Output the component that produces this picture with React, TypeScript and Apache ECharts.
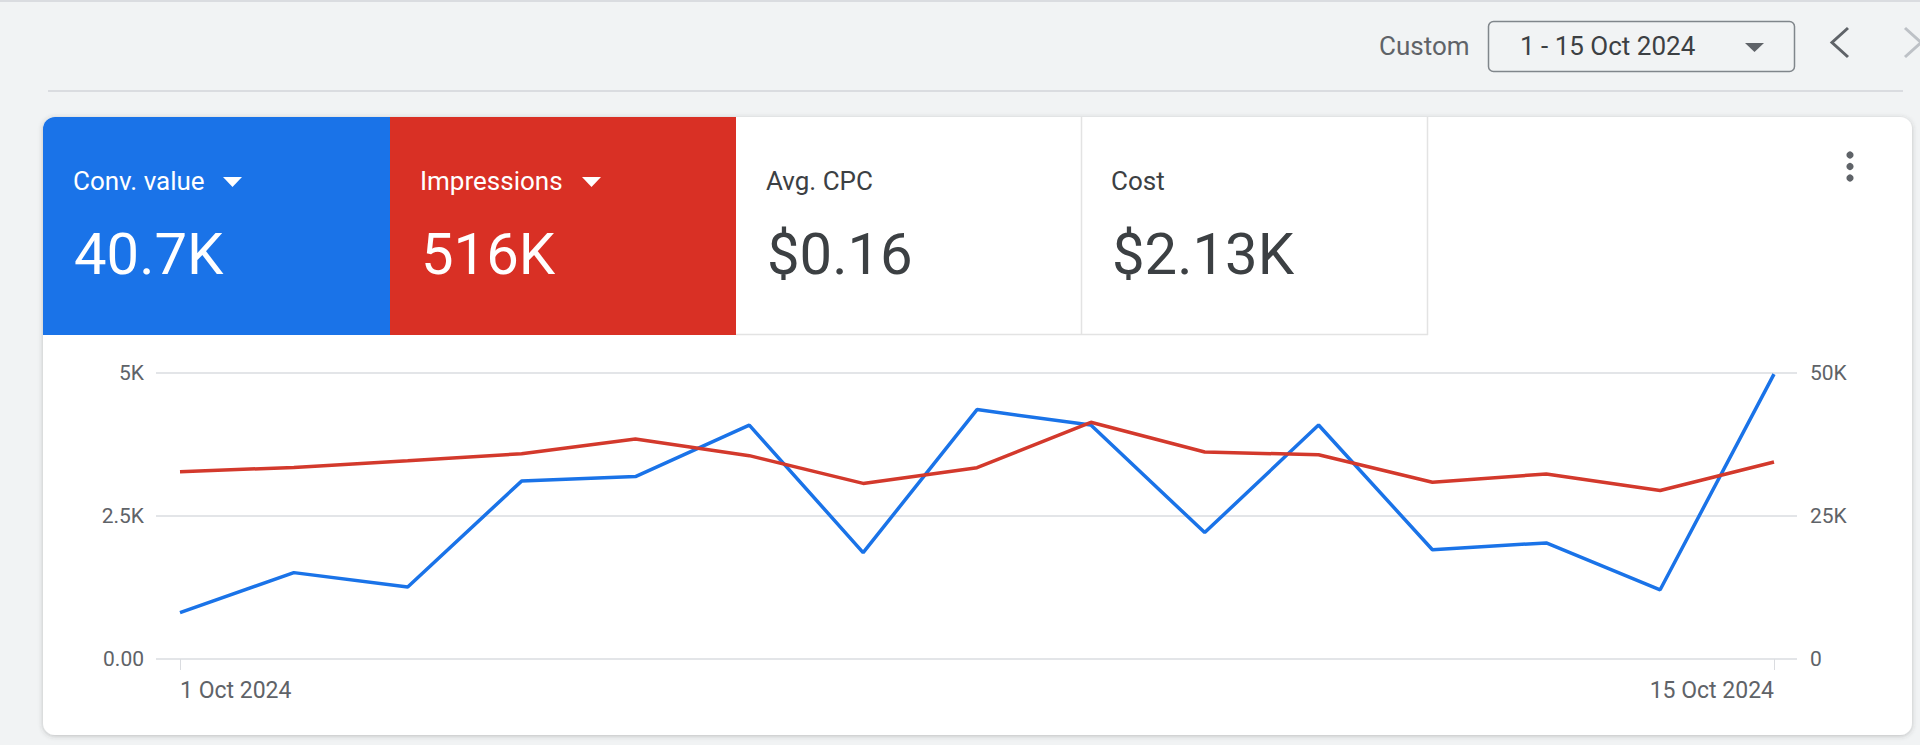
import React from 'react';
import * as echarts from 'echarts';

// daily values, 1 - 15 Oct 2024
const categories = [
  '1 Oct 2024', '2 Oct 2024', '3 Oct 2024', '4 Oct 2024', '5 Oct 2024',
  '6 Oct 2024', '7 Oct 2024', '8 Oct 2024', '9 Oct 2024', '10 Oct 2024',
  '11 Oct 2024', '12 Oct 2024', '13 Oct 2024', '14 Oct 2024', '15 Oct 2024',
];
const convValue = [810, 1510, 1260, 3110, 3190, 4090, 1860, 4360, 4090, 2210, 4090, 1910, 2030, 1210, 4980];
const impressions = [32750, 33500, 34650, 35900, 38450, 35550, 30700, 33450, 41380, 36200, 35700, 30900, 32350, 29450, 34450];

const leftTicks = [0, 2500, 5000];
const leftTickLabels = ['0.00', '2.5K', '5K'];
const rightTicks = [0, 25000, 50000];
const rightTickLabels = ['0', '25K', '50K'];

const metricLabels = ['Conv. value', 'Impressions', 'Avg. CPC', 'Cost'];
const metricValues = ['40.7K', '516K', '$0.16', '$2.13K'];

const BLUE = '#1a73e8';
const RED = '#d93025';
const FONT = 'Roboto, "Noto Sans", sans-serif';

const App: React.FC = () => {
  const chartRef = React.useRef<HTMLDivElement>(null);

  React.useEffect(() => {
    if (!chartRef.current) return;
    const chart = echarts.init(chartRef.current, undefined, { renderer: 'svg' });

    const tileX = [43, 390, 736, 1081];
    const tileText = ['#fff', '#fff', '#3c4043', '#3c4043'];

    const tiles: any[] = [];
    metricLabels.forEach((label, i) => {
      tiles.push({
        type: 'text',
        style: { x: tileX[i] + 30, y: 181, text: label, font: `26px ${FONT}`, fill: tileText[i], verticalAlign: 'middle' },
      });
      tiles.push({
        type: 'text',
        style: { x: tileX[i] + 31, y: 254, text: metricValues[i], font: `58px ${FONT}`, fill: tileText[i], verticalAlign: 'middle' },
      });
    });

    const option = {
      animation: false,
      backgroundColor: '#f1f3f4',
      textStyle: { fontFamily: FONT },
      graphic: [
        { type: 'rect', shape: { x: 0, y: 0, width: 1920, height: 2 }, style: { fill: '#dadce0' } },
        { type: 'line', shape: { x1: 48, y1: 91, x2: 1903, y2: 91 }, style: { stroke: '#dadce0', lineWidth: 2 } },
        // date range picker
        { type: 'text', style: { x: 1379, y: 46, text: 'Custom', font: `26px ${FONT}`, fill: '#5f6368', verticalAlign: 'middle' } },
        {
          type: 'rect',
          shape: { x: 1488.5, y: 21.5, width: 306, height: 50, r: 5 },
          style: { fill: 'none', stroke: '#80868b', lineWidth: 1.5 },
        },
        { type: 'text', style: { x: 1520, y: 46, text: '1 - 15 Oct 2024', font: `26px ${FONT}`, fill: '#3c4043', verticalAlign: 'middle' } },
        { type: 'polygon', shape: { points: [[1745, 43], [1764, 43], [1754.5, 52]] }, style: { fill: '#5f6368' } },
        { type: 'polyline', shape: { points: [[1848, 28], [1832, 42.5], [1848, 57]] }, style: { stroke: '#5f6368', lineWidth: 3, fill: 'none' } },
        { type: 'polyline', shape: { points: [[1905, 28], [1921, 42.5], [1905, 57]] }, style: { stroke: '#bdc1c6', lineWidth: 3, fill: 'none' } },
        // card
        {
          type: 'rect',
          z: -1,
          shape: { x: 43, y: 117, width: 1869, height: 618, r: 12 },
          style: { fill: '#fff', shadowBlur: 5, shadowColor: 'rgba(60,64,67,0.3)', shadowOffsetY: 1 },
        },
        { type: 'rect', shape: { x: 43, y: 117, width: 347, height: 218, r: [12, 0, 0, 0] }, style: { fill: BLUE } },
        { type: 'rect', shape: { x: 390, y: 117, width: 346, height: 218 }, style: { fill: RED } },
        { type: 'line', shape: { x1: 1081.5, y1: 117, x2: 1081.5, y2: 335 }, style: { stroke: '#e3e3e3', lineWidth: 1.5 } },
        { type: 'line', shape: { x1: 1427.5, y1: 117, x2: 1427.5, y2: 335 }, style: { stroke: '#e3e3e3', lineWidth: 1.5 } },
        { type: 'line', shape: { x1: 736, y1: 334.5, x2: 1428, y2: 334.5 }, style: { stroke: '#e3e3e3', lineWidth: 1.5 } },
        { type: 'polygon', shape: { points: [[223, 177], [242, 177], [232.5, 187]] }, style: { fill: '#fff' } },
        { type: 'polygon', shape: { points: [[582, 177], [601, 177], [591.5, 187]] }, style: { fill: '#fff' } },
        ...tiles,
        { type: 'circle', shape: { cx: 1850, cy: 155, r: 3.6 }, style: { fill: '#5f6368' } },
        { type: 'circle', shape: { cx: 1850, cy: 166.5, r: 3.6 }, style: { fill: '#5f6368' } },
        { type: 'circle', shape: { cx: 1850, cy: 178, r: 3.6 }, style: { fill: '#5f6368' } },
      ],
      grid: [
        // gridlines + y labels (wider than the data area)
        { left: 156, right: 123, top: 373, bottom: 86 },
        // data area
        { left: 180, right: 146, top: 373, bottom: 86 },
      ],
      xAxis: [
        { gridIndex: 0, type: 'value', show: false, min: 0, max: 1 },
        {
          gridIndex: 1,
          type: 'category',
          boundaryGap: false,
          data: categories,
          axisLine: { show: false },
          axisTick: {
            show: true,
            length: 11,
            interval: (i: number) => i === 0 || i === categories.length - 1,
            lineStyle: { color: '#dadce0', width: 1 },
          },
          axisLabel: {
            interval: (i: number) => i === 0 || i === categories.length - 1,
            margin: 20,
            color: '#5f6368',
            fontSize: 23,
            fontFamily: FONT,
            alignMinLabel: 'left',
            alignMaxLabel: 'right',
          },
          splitLine: { show: false },
        },
      ],
      yAxis: [
        {
          gridIndex: 0,
          type: 'value',
          position: 'left',
          min: 0,
          max: 5000,
          interval: 2500,
          axisLine: { show: false },
          axisTick: { show: false },
          splitLine: { show: true, lineStyle: { color: '#dadce0', width: 1.5 } },
          axisLabel: {
            margin: 12,
            color: '#5f6368',
            fontSize: 21,
            fontFamily: FONT,
            formatter: (v: number) => leftTickLabels[leftTicks.indexOf(v)] ?? '',
          },
        },
        {
          gridIndex: 0,
          type: 'value',
          position: 'right',
          min: 0,
          max: 50000,
          interval: 25000,
          axisLine: { show: false },
          axisTick: { show: false },
          splitLine: { show: false },
          axisLabel: {
            margin: 13,
            color: '#5f6368',
            fontSize: 21,
            fontFamily: FONT,
            formatter: (v: number) => rightTickLabels[rightTicks.indexOf(v)] ?? '',
          },
        },
        { gridIndex: 1, type: 'value', min: 0, max: 5000, show: false },
        { gridIndex: 1, type: 'value', min: 0, max: 50000, show: false, position: 'right' },
      ],
      series: [
        {
          name: 'Conv. value',
          type: 'line',
          xAxisIndex: 1,
          yAxisIndex: 2,
          data: convValue,
          symbol: 'none',
          lineStyle: { color: BLUE, width: 3.5 },
          itemStyle: { color: BLUE },
        },
        {
          name: 'Impressions',
          type: 'line',
          xAxisIndex: 1,
          yAxisIndex: 3,
          data: impressions,
          symbol: 'none',
          lineStyle: { color: '#d3392c', width: 3.5 },
          itemStyle: { color: RED },
        },
      ],
    };

    chart.setOption(option as any);

    const handleResize = () => chart.resize();
    window.addEventListener('resize', handleResize);
    return () => {
      window.removeEventListener('resize', handleResize);
      chart.dispose();
    };
  }, []);

  return (
    <div
      ref={chartRef}
      style={{ position: 'fixed', left: 0, top: 0, width: '100vw', height: '100vh' }}
    />
  );
};

export default App;
